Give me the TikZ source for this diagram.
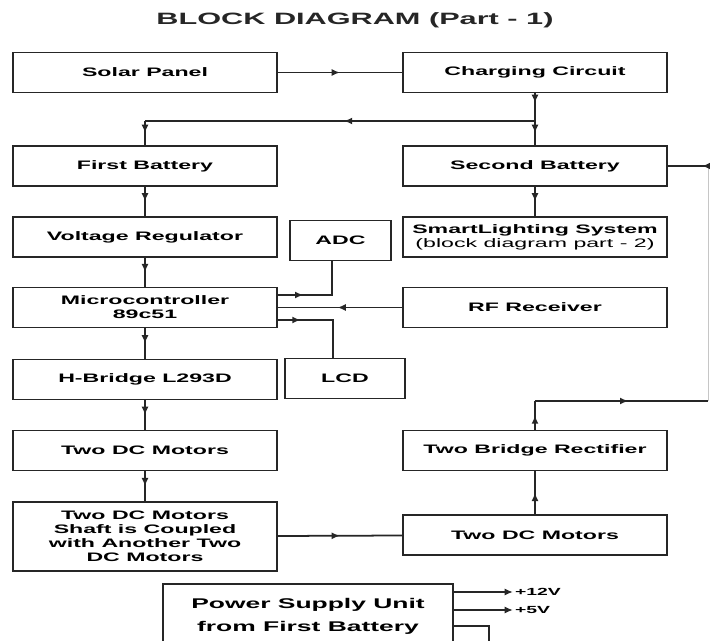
\documentclass[tikz,border=0pt]{standalone}
\usepackage{fontspec}
\newfontfamily\blockfont[FakeStretch=1.88]{Liberation Sans}
\newfontfamily\titlefont[FakeStretch=1.87]{Liberation Sans}
\usetikzlibrary{arrows.meta, decorations.markings}

\tikzset{
  blk/.style={draw=black!85, line width=1.5pt, minimum width=79.2mm, minimum height=12mm,
    align=center, inner sep=1pt, font=\blockfont\fontsize{10.5}{12}\selectfont\bfseries},
  wire/.style={draw=black!85, line width=1.5pt},
  midarr/.style={postaction={decorate}, decoration={markings,
    mark=at position #1 with {\arrow{Latex[length=2.5mm,width=2.1mm]}}}},
  midarr/.default=0.5,
  vlab/.style={right, inner sep=1pt, font=\blockfont\fontsize{8.8}{10}\selectfont\bfseries},
}

\begin{document}
\begin{tikzpicture}[x=0.3mm, y=-0.3mm]
  \clip (0,0) rectangle (710,641);

  % Title
  \node[font=\titlefont\fontsize{14}{16}\selectfont\bfseries, text=black!85] (title) at (355,20) {BLOCK DIAGRAM (Part - 1)};

  % Charging path
  \node[blk] (solar) at (145,72.5) {Solar Panel};
  \node[blk] (charge) at (535,72.5) {Charging Circuit};
  \node[blk] (bat1) at (145,166) {First Battery};
  \node[blk] (bat2) at (535,166) {Second Battery};
  \coordinate (split) at (535,121);

  % Control side
  \node[blk] (vreg) at (145,237) {Voltage Regulator};
  \node[blk, minimum width=30.3mm] (adc) at (340.5,240.5) {ADC};
  \node[blk] (smart) at (535,237) {SmartLighting System\\{\mdseries (block diagram part - 2)}};
  \node[blk] (mcu) at (145,307.5) {Microcontroller\\89c51};
  \node[blk] (rf) at (535,307.5) {RF Receiver};
  \node[blk] (hbr) at (145,379.5) {H-Bridge L293D};
  \node[blk, minimum width=36mm] (lcd) at (345,378.5) {LCD};

  % Motors and rectifier
  \node[blk] (mot1) at (145,450.5) {Two DC Motors};
  \node[blk] (rect) at (535,450.5) {Two Bridge Rectifier};
  \node[blk, minimum height=20.7mm] (shaft) at (145,536.5) {Two DC Motors\\Shaft is Coupled\\with Another Two\\DC Motors};
  \node[blk] (mot2) at (535,535) {Two DC Motors};

  % Power supply
  \node[blk, minimum width=87mm, minimum height=19.2mm, font=\blockfont\fontsize{12}{19.5}\selectfont\bfseries] (psu) at (308,616) {Power Supply Unit\\from First Battery};
  \coordinate (v12) at (513,592);
  \coordinate (v5) at (513,610);
  \coordinate (gnd) at (489,626);

  % Loop back to second battery
  \coordinate (loopA) at (535,401);
  \coordinate (loopB) at (708,401);
  \coordinate (loopC) at (708,166);

  % Connectors
  \draw[wire, midarr] (solar) -- (charge);
  \draw[wire, midarr=0.35] (charge) -- (split);
  \draw[wire, midarr] (split) -- (bat2);
  \draw[wire, midarr=0.49] (split) -- (bat1.north |- split);
  \draw[wire, midarr] (bat1.north |- split) -- (bat1);
  \draw[wire, midarr] (bat1) -- (vreg);
  \draw[wire, midarr] (bat2) -- (smart);
  \draw[wire, midarr] (vreg) -- (mcu);
  \draw[wire, midarr] (mcu) -- (hbr);
  \draw[wire, midarr] (hbr) -- (mot1);
  \draw[wire, midarr] (mot1) -- (shaft);
  \draw[wire, midarr=0.29] ([yshift=3.75mm]mcu.east) -| ([xshift=-2.5mm]adc.south);
  \draw[wire, midarr=0.52] (rf) -- (mcu);
  \draw[wire, midarr=0.245] ([yshift=-3.75mm]mcu.east) -| ([xshift=-3.6mm]lcd.north);
  \draw[wire, midarr] (shaft) -- (mot2);
  \draw[wire, midarr] (mot2) -- (rect);
  \draw[wire, midarr] (rect) -- (loopA);
  \draw[wire, midarr=0.54] (loopA) -- (loopB);
  \draw[gray!45, line width=0.6pt] (loopB) -- (loopC);
  \draw[wire, midarr=0.15] (loopC) -- (bat2);

  % Supply outputs
  \draw[wire, -{Latex[length=2.5mm,width=2.1mm]}] (psu.east |- v12) -- (v12) node[vlab] {+12V};
  \draw[wire, -{Latex[length=2.5mm,width=2.1mm]}] (psu.east |- v5) -- (v5) node[vlab] {+5V};
  \draw[wire] (psu.east |- gnd) -- (gnd) -- ++(0,30);
\end{tikzpicture}
\end{document}
